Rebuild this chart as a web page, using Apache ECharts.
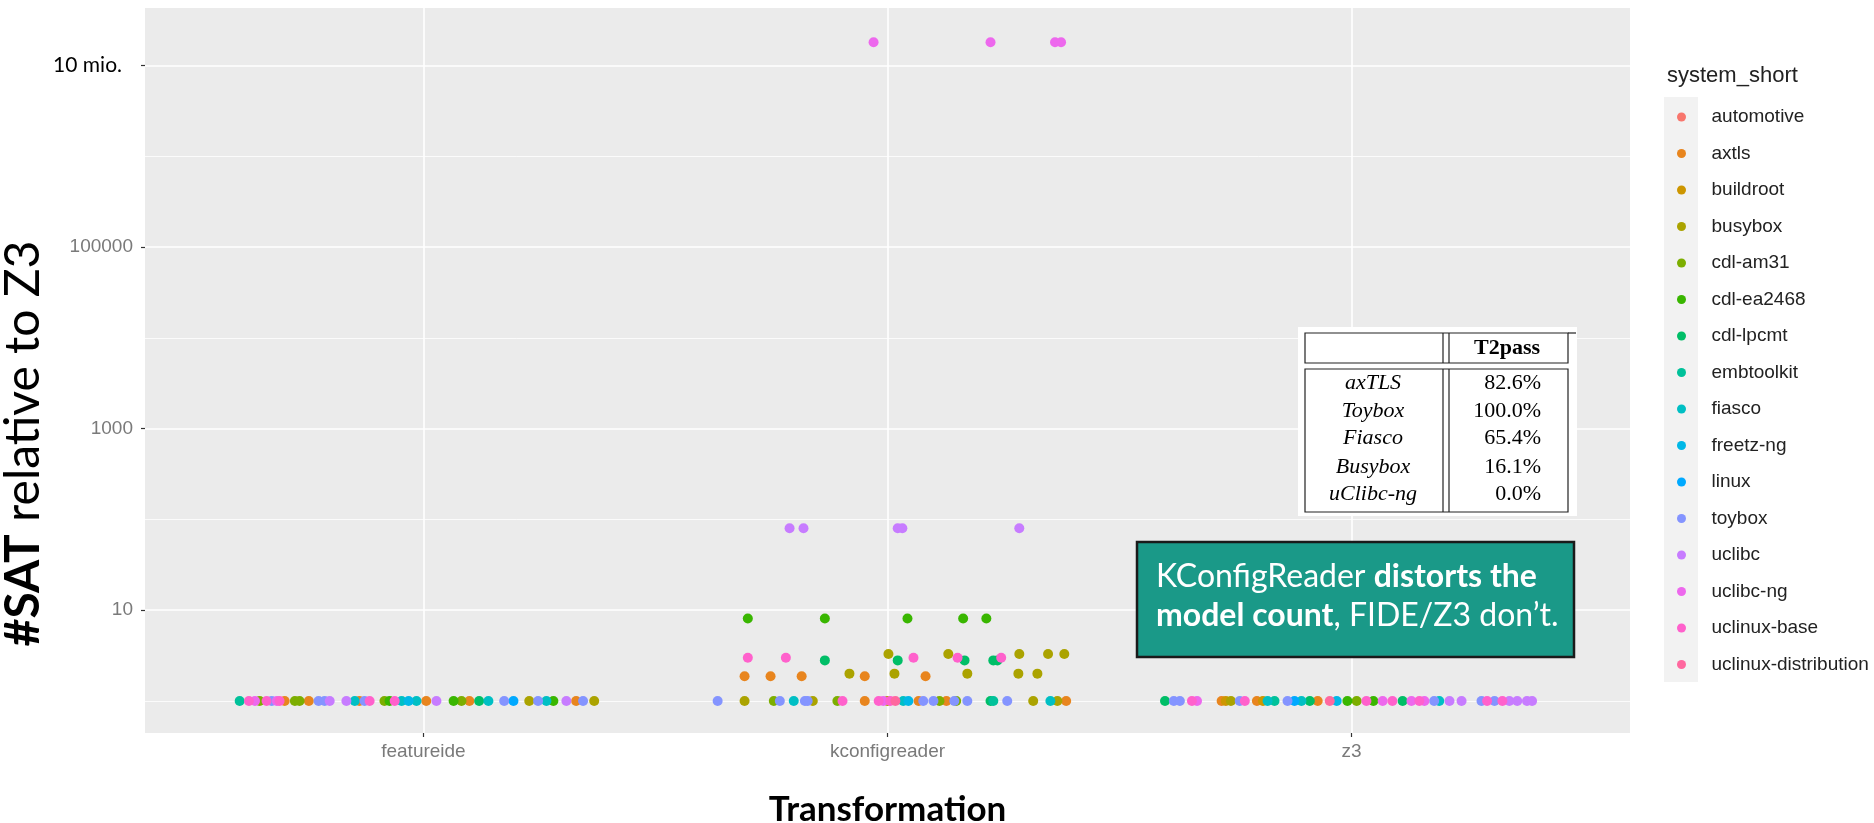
<!DOCTYPE html>
<html><head><meta charset="utf-8">
<script src="https://cdn.jsdelivr.net/npm/echarts@6/dist/echarts.min.js"></script>
<style>html,body{margin:0;padding:0;background:#fff}#c{width:1874px;height:823px}</style>
</head><body><div id="c"></div>
<script>
// ---- data ----
const categories = ['featureide', 'kconfigreader', 'z3'];
const systems = ['automotive','axtls','buildroot','busybox','cdl-am31','cdl-ea2468','cdl-lpcmt','embtoolkit','fiasco','freetz-ng','linux','toybox','uclibc','uclibc-ng','uclinux-base','uclinux-distribution'];
const colors = ['#F8766D','#E8851E','#CD9600','#ABA300','#7CAE00','#39B600','#00BE67','#00C19A','#00BFC4','#00B8E7','#00A9FF','#8494FF','#C77CFF','#ED68ED','#FF61CC','#FF689F'];

// each point: [category index, jitter offset, #SAT relative to Z3]
const automotivePts = [];
const axtlsPts = [[0,-0.299,1],[0,-0.247,1],[0,-0.138,1],[0,0.006,1],[0,0.099,1],[0,0.329,1],
  [1,-0.049,1],[1,0.067,1],[1,0.127,1],[1,0.385,1],
  [1,-0.308,1.87],[1,-0.252,1.87],[1,-0.185,1.87],[1,-0.049,1.87],[1,0.082,1.87],
  [2,-0.280,1],[2,-0.204,1],[2,-0.073,1]];
const buildrootPts = [[2,-0.271,1],[2,-0.191,1]];
const busyboxPts = [[0,0.228,1],[0,0.368,1],
  [1,-0.308,1],[1,-0.161,1],[1,0.000,1],[1,0.314,1],[1,0.366,1],
  [1,0.002,3.3],[1,0.131,3.3],[1,0.284,3.3],[1,0.346,3.3],[1,0.381,3.3],
  [1,-0.082,2.0],[1,0.015,2.0],[1,0.172,2.0],[1,0.282,2.0],[1,0.323,2.0],
  [2,-0.260,1]];
const cdlAm31Pts = [[0,-0.353,1],[0,-0.277,1],[0,-0.267,1],[0,-0.084,1],[0,0.082,1],
  [1,-0.245,1],[1,-0.108,1],[1,0.112,1],[1,0.148,1],
  [2,0.011,1]];
const cdlEa2468Pts = [[0,-0.073,1],[0,0.065,1],[0,0.280,1],
  [1,-0.301,8.1],[1,-0.135,8.1],[1,0.043,8.1],[1,0.163,8.1],[1,0.213,8.1],
  [2,-0.009,1],[2,0.047,1]];
const cdlLpcmtPts = [[0,0.120,1],
  [1,0.222,1],
  [1,-0.135,2.8],[1,0.022,2.8],[1,0.166,2.8],[1,0.228,2.8],[1,0.237,2.8],
  [2,-0.402,1],[2,-0.090,1],[2,0.110,1]];
const embtoolkitPts = [[0,-0.396,1],[1,0.228,1],[2,-0.166,1]];
const fiascoPts = [[0,-0.148,1],[0,-0.047,1],[0,-0.015,1],[0,0.140,1],[0,0.265,1],
  [1,-0.202,1],[1,0.034,1],[1,0.351,1],
  [2,-0.181,1],[2,-0.108,1],[2,0.189,1]];
const freetzNgPts = [[0,-0.032,1],[1,0.045,1],[2,-0.032,1]];
const linuxPts = [[0,0.194,1],[2,-0.123,1]];
const toyboxPts = [[0,-0.327,1],[0,-0.226,1],[0,-0.213,1],[0,-0.127,1],[0,0.174,1],[0,0.247,1],[0,0.344,1],
  [1,-0.366,1],[1,-0.232,1],[1,-0.178,1],[1,-0.172,1],[1,0.077,1],[1,0.099,1],[1,0.144,1],[1,0.172,1],[1,0.258,1],
  [2,-0.383,1],[2,-0.370,1],[2,-0.241,1],[2,-0.138,1],[2,0.178,1],[2,0.280,1],[2,0.308,1]];
const uclibcPts = [[0,-0.202,1],[0,-0.166,1],[0,0.028,1],[0,0.308,1],
  [1,-0.211,80],[1,-0.181,80],[1,0.022,80],[1,0.032,80],[1,0.284,80],
  [2,0.211,1],[2,0.237,1],[2,0.340,1],[2,0.357,1],[2,0.378,1],[2,0.389,1]];
const uclibcNgPts = [[0,-0.363,1],[0,-0.316,1],
  [1,-0.030,18000000],[1,0.222,18000000],[1,0.361,18000000],[1,0.374,18000000],
  [1,-0.009,1],
  [2,-0.333,1],[2,0.067,1],[2,0.129,1],[2,0.157,1]];
const uclinuxBasePts = [[0,-0.376,1],[0,-0.338,1],[0,-0.310,1],[0,-0.116,1],[0,-0.062,1],
  [1,-0.097,1],[1,-0.019,1],[1,0.006,1],
  [1,-0.301,3.0],[1,-0.219,3.0],[1,0.056,3.0],[1,0.151,3.0],[1,0.245,3.0],
  [2,-0.344,1],[2,-0.230,1],[2,0.032,1],[2,0.088,1],[2,0.146,1],[2,0.292,1],[2,0.325,1]];
const uclinuxDistributionPts = [[1,0.017,1],[2,-0.047,1]];

const yMajorTicks = [10, 1000, 100000, 10000000];
const yMajorLabels = ['10', '1000', '100000', '10 mio.'];
const yMinorTicks = [1, 100, 10000, 1000000];

const tableNames = ['axTLS', 'Toybox', 'Fiasco', 'Busybox', 'uClibc-ng'];
const tableT2pass = ['82.6%', '100.0%', '65.4%', '16.1%', '0.0%'];

// ---- chart ----
const allPts = [automotivePts, axtlsPts, buildrootPts, busyboxPts, cdlAm31Pts, cdlEa2468Pts, cdlLpcmtPts, embtoolkitPts,
  fiascoPts, freetzNgPts, linuxPts, toyboxPts, uclibcPts, uclibcNgPts, uclinuxBasePts, uclinuxDistributionPts];

const series = systems.map((name, i) => ({
  name, type: 'scatter', xAxisIndex: 0, yAxisIndex: 0,
  symbol: 'circle', symbolSize: 10,
  itemStyle: { color: colors[i], opacity: 1 },
  data: allPts[i].map(p => [p[0] + p[1], p[2]])
}));

const sans = 'Liberation Sans, Arial, sans-serif';
const serif = 'Liberation Serif, Times New Roman, serif';
const lato = 'Lato, sans-serif';

const yMin = 0.444, yMax = 4.3e7;

function majorLabel(v) {
  for (let i = 0; i < yMajorTicks.length; i++) {
    if (Math.abs(Math.log10(v) - Math.log10(yMajorTicks[i])) < 1e-6) {
      return i === yMajorTicks.length - 1 ? '{m|' + yMajorLabels[i] + '}' : yMajorLabels[i];
    }
  }
  return '';
}

const graphic = [
  // legend key background
  { type: 'rect', z: 0, shape: { x: 1664, y: 97, width: 34, height: 585 }, style: { fill: '#F2F2F2' } },
  // table
  { type: 'rect', z: 100, shape: { x: 1298, y: 327, width: 279, height: 189 }, style: { fill: '#fff' } },
  { type: 'rect', z: 101, shape: { x: 1305, y: 333, width: 263, height: 30 }, style: { fill: 'none', stroke: '#222', lineWidth: 1.2 } },
  { type: 'line', z: 101, shape: { x1: 1568, y1: 333, x2: 1576, y2: 333 }, style: { stroke: '#222', lineWidth: 1.2 } },
  { type: 'rect', z: 101, shape: { x: 1305, y: 369, width: 263, height: 143 }, style: { fill: 'none', stroke: '#222', lineWidth: 1.2 } },
  { type: 'line', z: 101, shape: { x1: 1443, y1: 333, x2: 1443, y2: 363 }, style: { stroke: '#222', lineWidth: 1.2 } },
  { type: 'line', z: 101, shape: { x1: 1449, y1: 333, x2: 1449, y2: 363 }, style: { stroke: '#222', lineWidth: 1.2 } },
  { type: 'line', z: 101, shape: { x1: 1443, y1: 369, x2: 1443, y2: 512 }, style: { stroke: '#222', lineWidth: 1.2 } },
  { type: 'line', z: 101, shape: { x1: 1449, y1: 369, x2: 1449, y2: 512 }, style: { stroke: '#222', lineWidth: 1.2 } },
  { type: 'text', z: 102, x: 1507, y: 348, style: { text: 'T2pass', font: 'bold 22px ' + serif, fill: '#000', align: 'center', verticalAlign: 'middle' } },
  // annotation box
  { type: 'rect', z: 100, shape: { x: 1137, y: 542, width: 437, height: 115 }, style: { fill: '#1A9988', stroke: '#1a1a1a', lineWidth: 2.5 } },
  { type: 'text', z: 102, x: 1156, y: 577, style: {
      text: 'KConfigReader {b|distorts the}', fill: '#fff', font: '32px ' + lato, align: 'left', verticalAlign: 'middle',
      rich: { b: { fontWeight: 'bold', fontFamily: lato, fontSize: 32, fill: '#fff' } } } },
  { type: 'text', z: 102, x: 1156, y: 616, style: {
      text: '{b|model count}, FIDE/Z3 don\u2019t.', fill: '#fff', font: '32px ' + lato, align: 'left', verticalAlign: 'middle',
      rich: { b: { fontWeight: 'bold', fontFamily: lato, fontSize: 32, fill: '#fff' } } } }
];
const rowY = [383, 411, 438, 467, 494];
tableNames.forEach((n, i) => {
  graphic.push({ type: 'text', z: 102, x: 1373, y: rowY[i], style: { text: n, font: 'italic 22px ' + serif, fill: '#000', align: 'center', verticalAlign: 'middle' } });
  graphic.push({ type: 'text', z: 102, x: 1541, y: rowY[i], style: { text: tableT2pass[i], font: '22px ' + serif, fill: '#000', align: 'right', verticalAlign: 'middle' } });
});

const option = {
  animation: false,
  backgroundColor: '#fff',
  title: { text: 'system_short', left: 1662, top: 60, textStyle: { fontFamily: sans, fontSize: 22, fontWeight: 'normal', color: '#222' } },
  legend: {
    orient: 'vertical', left: 1677, top: 107, padding: 0, itemWidth: 50, itemHeight: 9, itemGap: 16.5, icon: 'circle',
    data: systems, textStyle: { fontFamily: sans, fontSize: 19, color: '#222', lineHeight: 20, width: 160, overflow: 'none' }
  },
  grid: { left: 145, top: 8, width: 1485, height: 725, show: true, backgroundColor: '#EBEBEB', borderWidth: 0, outerBoundsMode: 'none', containLabel: false },
  xAxis: {
    type: 'value', min: -0.6, max: 2.6,
    name: 'Transformation', nameLocation: 'middle', nameGap: 59, nameMoveOverlap: false,
    nameTextStyle: { fontFamily: lato, fontSize: 35, fontWeight: 'bold', color: '#000' },
    axisLine: { show: false },
    axisTick: { show: true, length: 4, lineStyle: { color: '#333', width: 1.2 }, customValues: [0, 1, 2] },
    axisLabel: { customValues: [0, 1, 2], formatter: v => categories[Math.round(v)], fontFamily: sans, fontSize: 19, color: '#7a7a7a', margin: 9 },
    splitLine: { show: true, lineStyle: { color: '#fff', width: 1.6 } }
  },
  yAxis: [
    {
      type: 'log', min: yMin, max: yMax, position: 'left',
      axisLine: { show: false },
      axisTick: { show: false, customValues: yMinorTicks },
      axisLabel: { show: false, customValues: yMinorTicks },
      splitLine: { show: true, lineStyle: { color: '#fff', width: 0.8 } }
    },
    {
      type: 'log', min: yMin, max: yMax, position: 'left',
      name: '{b|#SAT} relative to Z3', nameLocation: 'middle', nameGap: 97, nameRotate: 90, nameMoveOverlap: false,
      nameTextStyle: { fontFamily: lato, fontSize: 48, color: '#000', padding: [0, 146, 0, 0],
        rich: { b: { fontFamily: lato, fontSize: 48, fontWeight: 'bold', color: '#000' } } },
      axisLine: { show: false },
      axisTick: { show: true, length: 4, lineStyle: { color: '#333', width: 1.2 }, customValues: yMajorTicks },
      axisLabel: { customValues: yMajorTicks, formatter: majorLabel, fontFamily: sans, fontSize: 19, color: '#7a7a7a', margin: 12,
        rich: { m: { fontFamily: lato, fontSize: 21, color: '#000', padding: [0, 11, 0, 0] } } },
      splitLine: { show: true, lineStyle: { color: '#fff', width: 1.6 } }
    }
  ],
  graphic,
  series
};
const chart = echarts.init(document.getElementById('c'), null, { renderer: 'canvas' });
chart.setOption(option);
</script></body></html>
